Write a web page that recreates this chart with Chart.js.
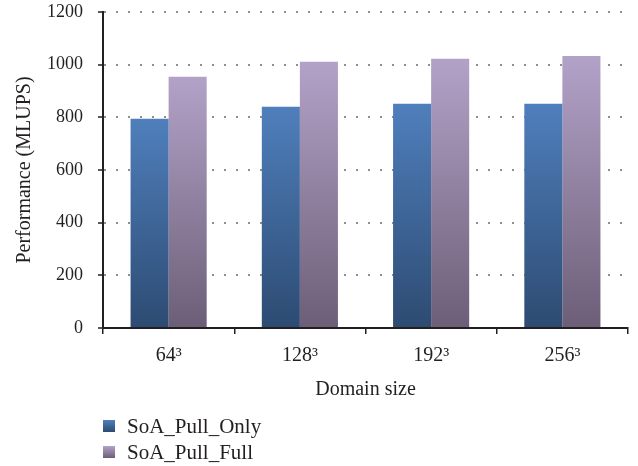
<!DOCTYPE html>
<html>
<head>
<meta charset="utf-8">
<script src="https://cdn.jsdelivr.net/npm/chart.js@4/dist/chart.umd.min.js"></script>
<style>
  html, body { margin: 0; padding: 0; background: #fff; }
  #wrap { width: 638px; height: 466px; }
</style>
</head>
<body>
<div id="wrap"><canvas id="graph1"></canvas></div>
<script>
// data
var domainSizes = ['64³', '128³', '192³', '256³'];
var pullOnly = [795, 840, 852, 852];
var pullFull = [954, 1011, 1022, 1033];
var yTicks = [0, 200, 400, 600, 800, 1000, 1200];

var FONT = '"Liberation Serif", "DejaVu Serif", serif';
var INK = '#231f20';

// vertical gradient for each bar, light at top, dark at base
function barGradient(top, bottom) {
  return function (context) {
    var chart = context.chart;
    if (!chart.chartArea || context.parsed == null) return top;
    var y = chart.scales.y;
    var y0 = y.getPixelForValue(0);
    var y1 = y.getPixelForValue(context.parsed.y);
    if (!isFinite(y0) || !isFinite(y1) || y0 === y1) return top;
    var g = chart.ctx.createLinearGradient(0, y1, 0, y0);
    g.addColorStop(0, top);
    g.addColorStop(1, bottom);
    return g;
  };
}

var seriesColors = [
  ['#4f7fbc', '#2d4b72'],
  ['#b3a2c8', '#6c5e77']
];

// legend stacked at bottom-left like the original
var bottomLegend = {
  id: 'bottomLegend',
  afterDraw: function (chart) {
    var ctx = chart.ctx;
    ctx.save();
    ctx.font = '21px ' + FONT;
    ctx.textBaseline = 'middle';
    chart.data.datasets.forEach(function (ds, i) {
      var cy = 426 + i * 26;
      var g = ctx.createLinearGradient(0, cy - 6, 0, cy + 6);
      g.addColorStop(0, seriesColors[i][0]);
      g.addColorStop(1, seriesColors[i][1]);
      ctx.fillStyle = g;
      ctx.fillRect(103, cy - 6, 12, 12);
      ctx.fillStyle = INK;
      ctx.fillText(ds.label, 127, cy + 1);
    });
    ctx.restore();
  }
};

var ctx = document.getElementById('graph1').getContext('2d');
var chart = new Chart(ctx, {
  type: 'bar',
  data: {
    labels: domainSizes,
    datasets: [
      { label: 'SoA_Pull_Only', data: pullOnly, backgroundColor: barGradient(seriesColors[0][0], seriesColors[0][1]) },
      { label: 'SoA_Pull_Full', data: pullFull, backgroundColor: barGradient(seriesColors[1][0], seriesColors[1][1]) }
    ]
  },
  options: {
    responsive: true,
    maintainAspectRatio: false,
    animation: false,
    layout: { padding: { left: 0, right: 10, top: 12, bottom: 64 } },
    datasets: { bar: { categoryPercentage: 0.58, barPercentage: 1.0 } },
    plugins: {
      legend: { display: false },
      tooltip: { enabled: false }
    },
    scales: {
      x: {
        afterFit: function (axis) { axis.height = 74; },
        grid: { drawOnChartArea: false, drawTicks: true, tickLength: 6, color: INK, lineWidth: 1.5 },
        border: { color: INK, width: 2 },
        ticks: { color: INK, font: { family: FONT, size: 20 }, padding: 10 },
        title: { display: true, text: 'Domain size', color: INK, font: { family: FONT, size: 20 }, padding: { top: 0, bottom: 0 } }
      },
      y: {
        min: 0,
        max: 1200,
        afterFit: function (axis) {
          axis.width = 103;
          axis.paddingTop = 0;
          axis.paddingBottom = 0;
        },
        afterBuildTicks: function (axis) {
          axis.ticks = yTicks.map(function (v) { return { value: v }; });
        },
        grid: { color: '#8f8f8f', lineWidth: 2, tickLength: 5, tickColor: INK, tickWidth: 1.5 },
        border: { color: INK, width: 2, dash: [2, 10] },
        ticks: {
          color: INK,
          font: { family: FONT, size: 18 },
          padding: 15,
          callback: function (v) { return String(v); }
        },
        title: { display: true, text: 'Performance (MLUPS)', color: INK, font: { family: FONT, size: 20 }, padding: { top: 13, bottom: 0 } }
      }
    }
  },
  plugins: [bottomLegend]
});
</script>
</body>
</html>
